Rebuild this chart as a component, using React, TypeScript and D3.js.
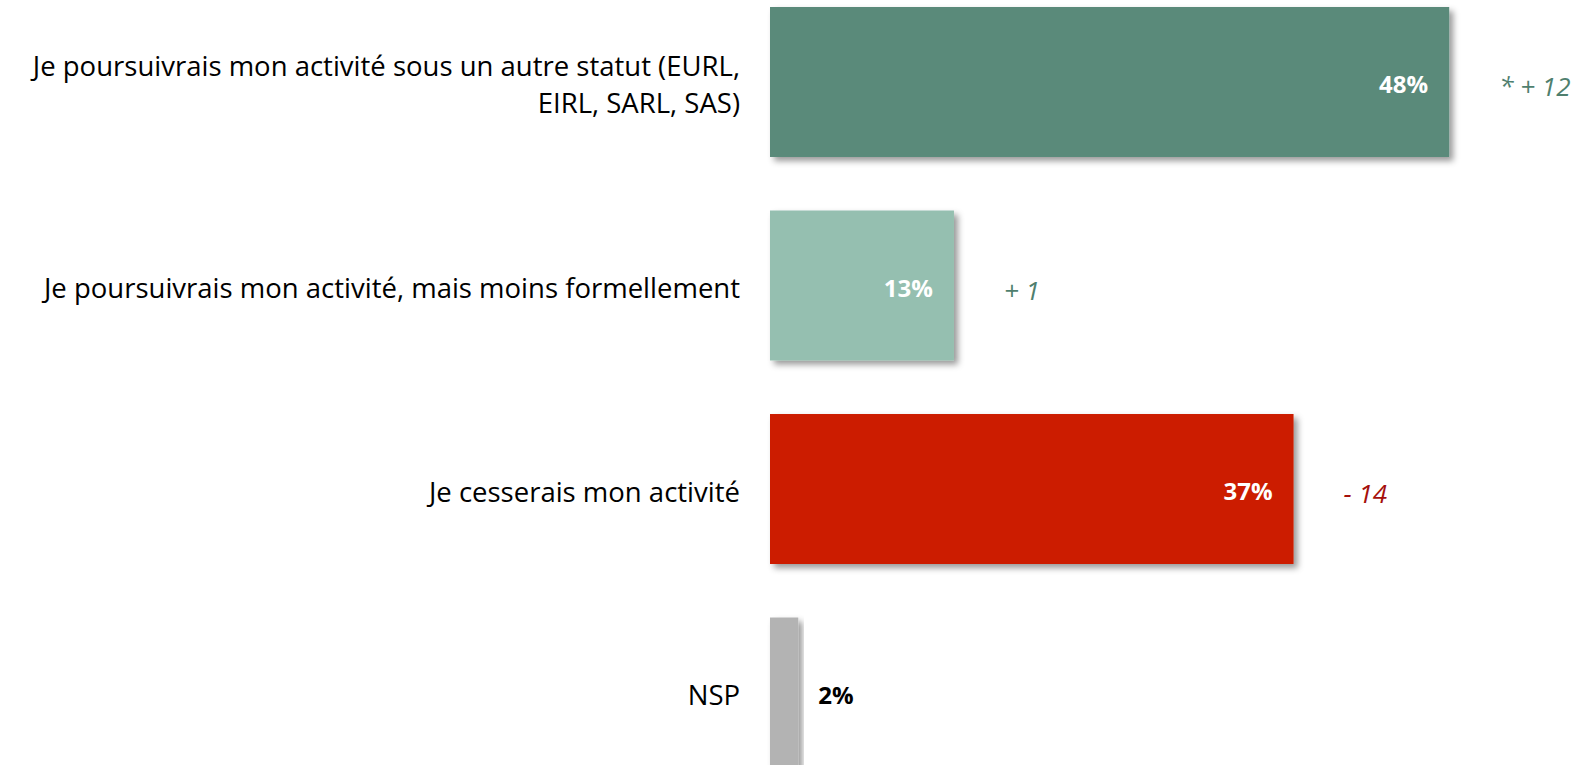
import React from 'react';
import * as d3 from 'd3';

const categories = [
  'Je poursuivrais mon activité sous un autre statut (EURL,\nEIRL, SARL, SAS)',
  'Je poursuivrais mon activité, mais moins formellement',
  'Je cesserais mon activité',
  'NSP',
];
const values = [48, 13, 37, 2];
const changes = ['* + 12', '+ 1', '- 14', ''];
const barColors = ['#5a8a7a', '#95bfb0', '#cc1d00', '#b3b3b3'];
const changeColors = ['#4f7f6e', '#4f7f6e', '#a5100c', '#000'];

const W = 1577;
const H = 765;
const FONT = 'Open Sans, Lato, sans-serif';
const LINE_H = 37.5;

export default function App() {
  // scales
  const x = d3.scaleLinear().domain([0, 100]).range([770, 770 + 1415]);
  const y = d3
    .scaleBand<string>()
    .domain(categories)
    .range([7, 767.5])
    .paddingInner(0.263)
    .paddingOuter(0);

  return (
    <svg
      width={W}
      height={H}
      style={{ position: 'absolute', left: 0, top: 0, background: '#fff' }}
    >
      <defs>
        <filter id="shadow" x="-10%" y="-10%" width="130%" height="130%">
          <feDropShadow dx="4" dy="4" stdDeviation="3" floodColor="#000" floodOpacity="0.4" />
        </filter>
      </defs>

      {categories.map((c, i) => {
        const y0 = y(c)!;
        const cy = y0 + y.bandwidth() / 2;
        const x1 = x(values[i]);
        const lines = c.split('\n');
        const inside = values[i] > 5;
        return (
          <g key={c}>
            <rect
              x={x(0)}
              y={y0}
              width={x1 - x(0)}
              height={y.bandwidth()}
              fill={barColors[i]}
              filter="url(#shadow)"
            />
            {lines.map((l, j) => (
              <text
                key={j}
                fontFamily={FONT}
                fontSize={27.5}
                fill="#000"
                textAnchor="end"
                x={740}
                y={cy - ((lines.length - 1) * LINE_H) / 2 + j * LINE_H + 3}
                dy="0.35em"
              >
                {l}
              </text>
            ))}
            <text
              fontFamily={FONT}
              fontSize={24}
              fontWeight="bold"
              fill={inside ? '#fff' : '#000'}
              textAnchor={inside ? 'end' : 'start'}
              x={inside ? x1 - 21 : x1 + 20}
              y={cy + 3}
              dy="0.35em"
            >
              {values[i]}%
            </text>
            {changes[i] && (
              <text
                fontFamily={FONT}
                fontSize={26}
                fontStyle="italic"
                fill={changeColors[i]}
                x={x1 + 50}
                y={cy + 5}
                dy="0.35em"
              >
                {changes[i]}
              </text>
            )}
          </g>
        );
      })}
    </svg>
  );
}
